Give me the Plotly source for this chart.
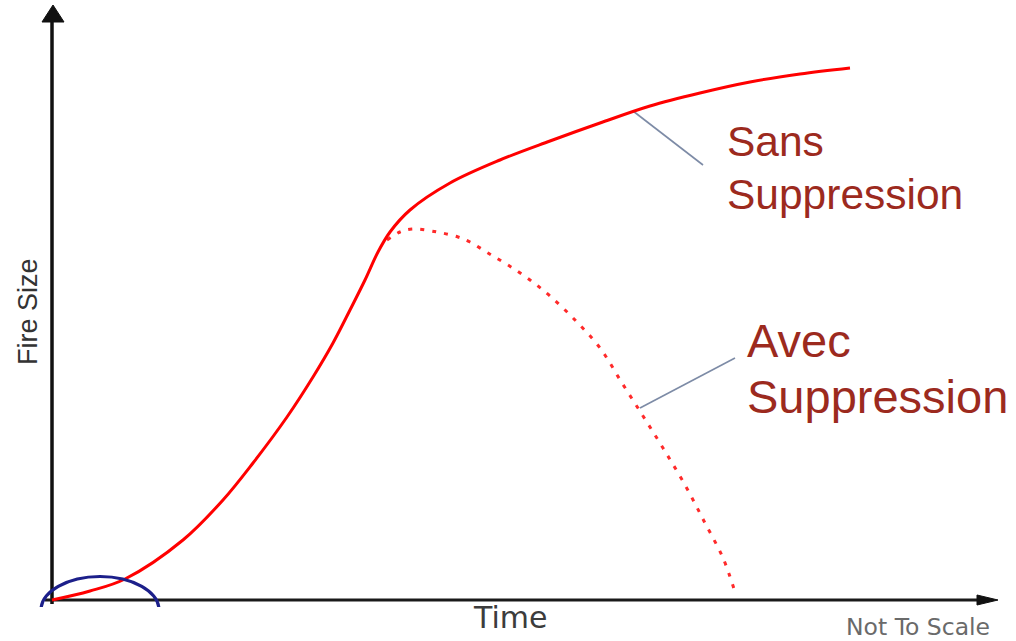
import plotly.graph_objects as go

# ---- data (time / fire size in schematic units; origin at the axes corner) ----
sans_t = [0, 38, 73, 131, 171, 201, 235, 261, 281, 298, 313, 326, 338, 358, 398, 448, 498, 548, 598, 648, 698, 748, 798]
sans_s = [0, 9, 21, 60, 100, 137, 183, 223, 257, 290, 320, 348, 368, 390, 417, 440, 459, 477, 494, 507, 518, 526, 532]

avec_t = [335, 348, 360, 385, 406, 418, 436, 456, 478, 498, 523, 548, 570, 591, 611, 633, 653, 671, 683]
avec_s = [360, 368, 371, 368, 363, 358, 347, 335, 320, 304, 280, 252, 217, 184, 152, 115, 77, 42, 8]

# leader lines from curves to labels
lead_sans_t = [581, 651]
lead_sans_s = [489, 435]
lead_avec_t = [588, 683]
lead_avec_s = [192, 242]

# axes with arrow heads
yaxis_t = [0, 0]
yaxis_s = [-4, 580]
yarrow_t = [-10, 1, 12, -10]
yarrow_s = [578, 595, 578, 578]
xaxis_t = [-7, 928]
xaxis_s = [0, 0]
xarrow_t = [925, 946, 925, 925]
xarrow_s = [5, 0, -5, 5]

labels = ["Sans", "Suppression", "Avec", "Suppression"]
title_x = "Time"
title_y = "Fire Size"
note = "Not To Scale"

W, H = 1016, 641
PLOT_H = 607  # plot area height in px (bottom margin clips the circle)

fig = go.Figure()

# axes
fig.add_trace(go.Scatter(x=yaxis_t, y=yaxis_s, mode="lines",
                         line=dict(color="#111111", width=3.5), hoverinfo="skip"))
fig.add_trace(go.Scatter(x=yarrow_t, y=yarrow_s, mode="lines", fill="toself",
                         fillcolor="#111111", line=dict(color="#111111", width=1), hoverinfo="skip"))
fig.add_trace(go.Scatter(x=xaxis_t, y=xaxis_s, mode="lines",
                         line=dict(color="#1a1a1a", width=3), hoverinfo="skip"))
fig.add_trace(go.Scatter(x=xarrow_t, y=xarrow_s, mode="lines", fill="toself",
                         fillcolor="#111111", line=dict(color="#111111", width=1), hoverinfo="skip"))

# leader lines
fig.add_trace(go.Scatter(x=lead_sans_t, y=lead_sans_s, mode="lines",
                         line=dict(color="#7d8ba6", width=1.6), hoverinfo="skip"))
fig.add_trace(go.Scatter(x=lead_avec_t, y=lead_avec_s, mode="lines",
                         line=dict(color="#7d8ba6", width=1.6), hoverinfo="skip"))

# curves
fig.add_trace(go.Scatter(x=avec_t, y=avec_s, mode="lines", line_shape="spline",
                         line=dict(color="#ff2a2a", width=3, dash="4px,8px"), hoverinfo="skip"))
fig.add_trace(go.Scatter(x=sans_t, y=sans_s, mode="lines", line_shape="spline",
                         line=dict(color="#ff0000", width=3, smoothing=1.0), hoverinfo="skip"))

# blue ellipse at origin (clipped by plot area)
fig.add_shape(type="circle", xref="x", yref="y", x0=-11, x1=107, y0=-44, y1=23.5,
              line=dict(color="#1c1f8a", width=3.2), layer="above")

red = "#9c2a1e"
ann = [
    dict(x=673, y=600 - 141.5, text=labels[0], size=42.5),
    dict(x=673, y=600 - 194.5, text=labels[1], size=42.5),
    dict(x=693, y=600 - 340.5, text=labels[2], size=47),
    dict(x=693, y=600 - 396.5, text=labels[3], size=47),
]
for a in ann:
    fig.add_annotation(x=a["x"], y=a["y"], xref="x", yref="y", text=a["text"],
                       showarrow=False, xanchor="left", yanchor="middle",
                       font=dict(family="Liberation Sans, Arial", size=a["size"], color=red))

fig.add_annotation(x=-24, y=288, xref="x", yref="y", text=title_y, textangle=-90,
                   showarrow=False, xanchor="center", yanchor="middle",
                   font=dict(family="Liberation Sans, Arial", size=27, color="#333333"))
fig.add_annotation(x=510 / W, y=(PLOT_H - 617.5) / PLOT_H, xref="paper", yref="paper",
                   text=title_x, showarrow=False, xanchor="center", yanchor="middle",
                   font=dict(family="DejaVu Sans", size=30, color="#3c3c3c"))
fig.add_annotation(x=918 / W, y=(PLOT_H - 627) / PLOT_H, xref="paper", yref="paper",
                   text=note, showarrow=False, xanchor="center", yanchor="middle",
                   font=dict(family="DejaVu Sans", size=23.5, color="#6a6a6a"))

fig.update_layout(
    width=W, height=H,
    margin=dict(l=0, r=0, t=0, b=H - PLOT_H, pad=0),
    paper_bgcolor="white", plot_bgcolor="white",
    showlegend=False,
    xaxis=dict(range=[-52, W - 52], visible=False, fixedrange=True),
    yaxis=dict(range=[600 - PLOT_H, 600], visible=False, fixedrange=True),
)

fig.write_html("out.html", config={"displayModeBar": False},
               post_script="document.body.style.margin='0';document.body.style.overflow='hidden';")
